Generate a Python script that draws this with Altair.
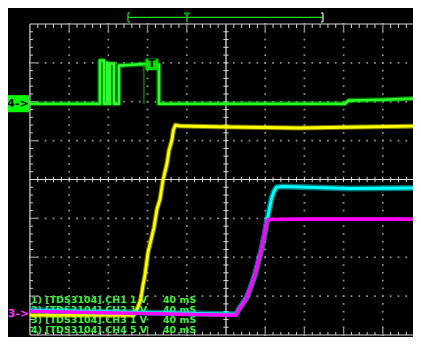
import altair as alt
import pandas as pd
import numpy as np

# ---- scope settings: x in ms (40 ms/div), y in screen divisions (center = 0)
# CH1 (yellow)
ch1_t = [-200, -93.9, -89.8, -86.7, -84.7, -82.7, -79.6, -75.5, -73.5, -70.4, -67.3,
         -64.3, -60.2, -58.2, -55.1, -53.6, -51.5, -46.9, 4.1, 75.5, 136.7, 199]
ch1_d = [-3.49, -3.49, -3.287, -3.057, -2.726, -2.471, -1.885, -1.452, -1.248, -0.764,
         -0.510, -0.025, 0.408, 0.739, 1.019, 1.274, 1.401, 1.376, 1.350, 1.325, 1.350, 1.376]
# CH2 (cyan)
ch2_t = [-200, -98, 10.2, 14.3, 17.7, 21.1, 26.2, 29.6, 33.0, 36.4, 39.8, 41.5, 43.2,
         44.9, 46.6, 49.0, 51.7, 56.8, 126.5, 199]
ch2_d = [-3.363, -3.414, -3.465, -3.294, -3.167, -3.039, -2.701, -2.446, -2.115, -1.783,
         -1.368, -1.113, -0.899, -0.688, -0.476, -0.306, -0.196, -0.178, -0.229, -0.217]
# CH3 (magenta)
ch3_t = [-200, -98, 10.2, 14.3, 17.7, 21.1, 26.2, 29.6, 33.0, 36.4, 39.8, 41.5, 43.2, 75.5, 199]
ch3_d = [-3.389, -3.439, -3.49, -3.32, -3.192, -3.065, -2.726, -2.471, -2.132, -1.791,
         -1.368, -1.146, -1.027, -1.019, -1.019]
# CH4 (green)
ch4_t = [-200, -128.6, -128.6, -124.5, -124.5, -121.4, -121.4, -120.8, -120.8, -118.4,
         -118.4, -114.3, -114.3, -109.2, -109.2, -95, -84, -68.4, -68.4, 121.4, 125, 160, 199]
ch4_d = [1.95, 1.95, 3.06, 3.06, 1.95, 1.95, 3.0, 3.0, 1.95, 1.95, 2.98, 2.98, 1.95,
         1.95, 2.93, 2.95, 2.97, 2.96, 1.95, 1.95, 2.03, 2.05, 2.09]
ch4_glitch_t = [-83.7]

# channel readout text
label_left = ["1) [TDS3104].CH1", "2) [TDS3104].CH2", "3) [TDS3104].CH3", "4) [TDS3104].CH4"]
label_volts = ["1  V", "1  V", "1  V", "5  V"]
label_time = ["40 mS", "40 mS", "40 mS", "40 mS"]
label_d = [-3.185, -3.439, -3.694, -3.949]

W, H = 405, 329
X = alt.Scale(domain=[-222.4, 190.8], nice=False, zero=False)
Y = alt.Scale(domain=[-4.0514, 4.4116], nice=False, zero=False)
PXX = 40 / 39.2      # ms per pixel
PXY = 1 / 38.875     # div per pixel


def rules(df, color, width=1.0, opacity=1.0):
    return alt.Chart(df).mark_rule(color=color, strokeWidth=width, opacity=opacity).encode(
        x=alt.X("x:Q", scale=X, axis=None), x2="x2:Q",
        y=alt.Y("y:Q", scale=Y, axis=None), y2="y2:Q")


def trace(t, d, color, width, opacity=1.0):
    df = pd.DataFrame({"t": t, "d": d, "i": range(len(t))})
    return alt.Chart(df).mark_line(color=color, strokeWidth=width, opacity=opacity,
                                   strokeJoin="round", clip=True).encode(
        x=alt.X("t:Q", scale=X, axis=None), y=alt.Y("d:Q", scale=Y, axis=None),
        order="i:Q")


def texts(df, color, size, weight="bold", align="left", baseline="alphabetic",
          font="DejaVu Sans", **kw):
    return alt.Chart(df).mark_text(color=color, fontSize=size, fontWeight=weight, align=align,
                                   baseline=baseline, font=font, **kw).encode(
        x=alt.X("x:Q", scale=X, axis=None), y=alt.Y("y:Q", scale=Y, axis=None), text="s:N")


# ---- graticule
minor_t = np.round(np.arange(-200, 190.1, 8), 3)
minor_d = np.round(np.arange(-4, 4.01, 0.2), 3)
major_t = [v for v in range(-160, 161, 40) if v != 0]
major_d = [v for v in range(-3, 4) if v != 0]

dots = pd.DataFrame(
    [{"x": t, "y": d} for t in major_t for d in minor_d] +
    [{"x": t, "y": d} for d in major_d for t in minor_t])
dot_layer = alt.Chart(dots).mark_square(size=3, color="#8f8f8f", opacity=1).encode(
    x=alt.X("x:Q", scale=X, axis=None), y=alt.Y("y:Q", scale=Y, axis=None))

border = pd.DataFrame([
    {"x": -200, "x2": -200, "y": -4, "y2": 4},
    {"x": -200, "x2": 190.8, "y": 4, "y2": 4},
    {"x": -200, "x2": 190.8, "y": -4, "y2": -4},
])
center = pd.DataFrame([
    {"x": 0, "x2": 0, "y": -4, "y2": 4},
    {"x": -200, "x2": 190.8, "y": 0, "y2": 0},
])

minor_ticks = []
major_ticks = []
for t in minor_t:
    is_major = abs(t % 40) < 1e-6
    if abs(t) < 1e-6 or abs(t) >= 200:
        continue
    if is_major:
        major_ticks.append({"x": t, "x2": t, "y": 4, "y2": 4 - 7 * PXY})
        major_ticks.append({"x": t, "x2": t, "y": -4, "y2": -4 + 7 * PXY})
    else:
        minor_ticks.append({"x": t, "x2": t, "y": 4, "y2": 4 - 4 * PXY})
        minor_ticks.append({"x": t, "x2": t, "y": -4, "y2": -4 + 3 * PXY})
    minor_ticks.append({"x": t, "x2": t, "y": -2.7 * PXY, "y2": 2.7 * PXY})
for d in minor_d:
    is_major = abs(d - round(d)) < 1e-6
    if abs(d) < 1e-6 or abs(d) >= 4:
        continue
    if is_major:
        major_ticks.append({"x": -200, "x2": -200 + 8 * PXX, "y": d, "y2": d})
    else:
        minor_ticks.append({"x": -200, "x2": -200 + 3 * PXX, "y": d, "y2": d})
    minor_ticks.append({"x": -2.7 * PXX, "x2": 2.7 * PXX, "y": d, "y2": d})

# ---- readout text
lab = pd.DataFrame({"x": [-198.9] * 4, "y": label_d, "s": label_left})
vol = pd.DataFrame({"x": [-98.0] * 4, "y": label_d, "s": label_volts})
tim = pd.DataFrame({"x": [-64.3] * 4, "y": label_d, "s": label_time})
GREEN_TXT = "#3cf03c"

# ---- markers
box4 = pd.DataFrame([{"x": -222.4, "x2": -201.0, "y": 2.17, "y2": 1.73}])
box4_layer = alt.Chart(box4).mark_rect(color="#00ff00").encode(
    x=alt.X("x:Q", scale=X, axis=None), x2="x2:Q",
    y=alt.Y("y:Q", scale=Y, axis=None), y2="y2:Q")
txt4 = pd.DataFrame([{"x": -212.2, "y": 1.95, "s": "4->"}])

tbox = pd.DataFrame([{"x": -82.1, "x2": -68.9, "y": 3.11, "y2": 2.81}])
tbox_layer = alt.Chart(tbox).mark_rect(color="#00e000").encode(
    x=alt.X("x:Q", scale=X, axis=None), x2="x2:Q",
    y=alt.Y("y:Q", scale=Y, axis=None), y2="y2:Q")
ttxt = pd.DataFrame([{"x": -75.5, "y": 2.96, "s": "T"}])

mk3 = pd.DataFrame([{"x": -211.7, "y": -3.45, "s": "3->"}])

trig_bar = pd.DataFrame([
    {"x": -100.0, "x2": 99.0, "y": 4.172, "y2": 4.172},
    {"x": -100.0, "x2": -100.0, "y": 4.283, "y2": 4.055},
    {"x": -100.0, "x2": -98.0, "y": 4.283, "y2": 4.283},
    {"x": -100.0, "x2": -98.0, "y": 4.055, "y2": 4.055},
])
trig_bar_r = pd.DataFrame([
    {"x": 99.0, "x2": 99.0, "y": 4.283, "y2": 4.055},
    {"x": 97.0, "x2": 99.0, "y": 4.283, "y2": 4.283},
    {"x": 97.0, "x2": 99.0, "y": 4.055, "y2": 4.055},
])
trig_t = pd.DataFrame([
    {"x": -42.9, "x2": -36.7, "y": 4.275, "y2": 4.275},
    {"x": -39.8, "x2": -39.8, "y": 4.275, "y2": 4.055},
])
glitch = pd.DataFrame([{"x": t, "x2": t, "y": 2.96, "y2": 1.95} for t in ch4_glitch_t])

chart = alt.layer(
    texts(lab, GREEN_TXT, 9.5),
    texts(vol, GREEN_TXT, 9.5),
    texts(tim, GREEN_TXT, 9.5),
    dot_layer,
    rules(border, "#d8d8d8", 1.2),
    rules(pd.DataFrame(minor_ticks), "#d0d0d0", 1.0),
    rules(pd.DataFrame(major_ticks), "#8a8a8a", 1.4),
    rules(center, "#e8e8e8", 1.2),
    trace(ch4_t, ch4_d, "#00e000", 5.0, 0.5),
    trace(ch4_t, ch4_d, "#2aff2a", 2.6),
    rules(glitch, "#00a000", 1.2),
    trace(ch1_t, ch1_d, "#e8e800", 5.0, 0.5),
    trace(ch1_t, ch1_d, "#ffff00", 2.8),
    trace(ch2_t, ch2_d, "#00e8e8", 6.0, 0.5),
    trace(ch2_t, ch2_d, "#00ffff", 3.0),
    trace(ch3_t, ch3_d, "#ff00ff", 3.6),
    box4_layer,
    texts(txt4, "#000000", 11, align="center", baseline="middle"),
    tbox_layer,
    texts(ttxt, "#000000", 11, align="center", baseline="middle"),
    texts(mk3, "#ff33ff", 11, align="center", baseline="middle"),
    rules(trig_bar, "#22dd22", 1.2),
    rules(trig_bar_r, "#ccffcc", 1.2),
    rules(trig_t, "#00a000", 2.0),
).properties(
    width=W, height=H, background="black", padding=0,
    autosize=alt.AutoSizeParams(type="none"),
).configure_view(strokeWidth=0)

chart.save("out.html", embed_options={"renderer": "svg", "actions": False})
